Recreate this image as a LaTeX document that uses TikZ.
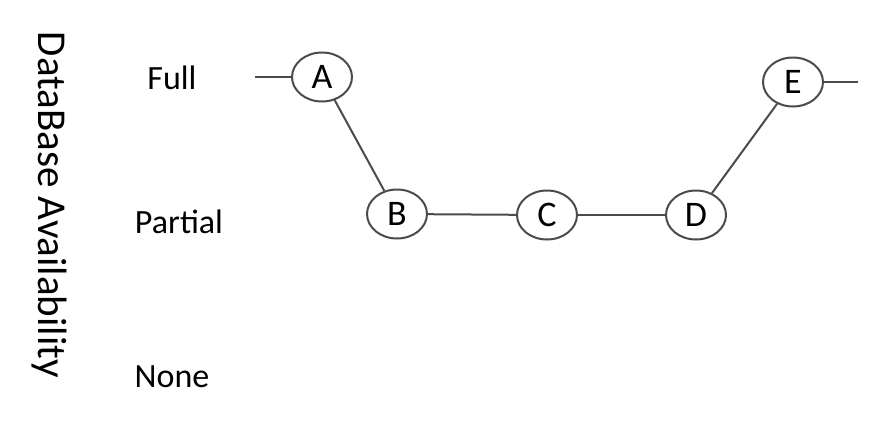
\documentclass[tikz,border=0pt]{standalone}
\usepackage{fontspec}
\setmainfont{Carlito}
\usetikzlibrary{shapes.geometric}
\definecolor{linegray}{RGB}{75,75,75}
\tikzset{
  state/.style={ellipse, draw=linegray, line width=2pt, minimum width=60pt, minimum height=49pt, inner sep=0pt, font=\fontsize{36}{40}\selectfont, text=black},
  conn/.style={draw=linegray, line width=2pt},
  lvl/.style={font=\fontsize{34}{38}\selectfont, text=black, inner sep=0pt}
}
\begin{document}
\begin{tikzpicture}[x=1pt,y=-1pt]
\useasboundingbox (0,0) rectangle (871,421);
\node[lvl, rotate=-90] (axis) at (49,205) {\fontsize{41}{44}\selectfont DataBase Availability};
\node[lvl] (full) at (172,78) {Full};
\node[lvl] (partial) at (179,222) {Partial};
\node[lvl] (none) at (172,377) {None};
\node[state] (A) at (322,77) {A};
\node[state] (B) at (397,214) {B};
\node[state] (C) at (547,215) {C};
\node[state] (D) at (696,215) {D};
\node[state] (E) at (793,82) {E};
\coordinate (in) at (255,77);
\coordinate (out) at (858,82);
\draw[conn] (in) -- (A);
\draw[conn] (A) -- (B);
\draw[conn] (B) -- (C);
\draw[conn] (C) -- (D);
\draw[conn] (D) -- (E);
\draw[conn] (E) -- (out);
\end{tikzpicture}
\end{document}
